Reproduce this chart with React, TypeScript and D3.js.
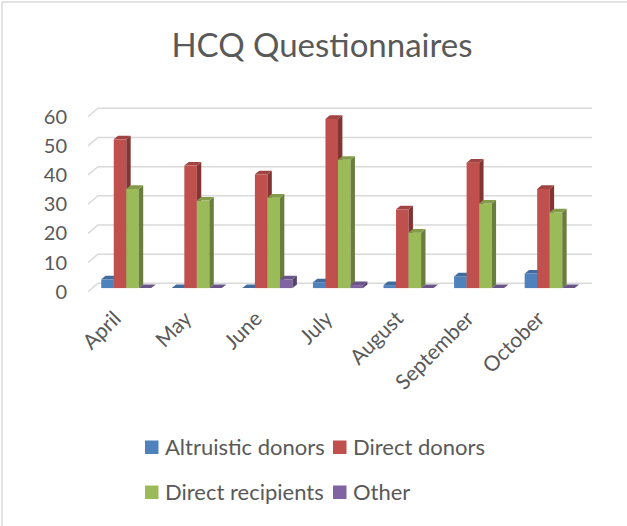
import { useEffect, useRef } from "react"
import * as d3 from "d3"

const months = ["April", "May", "June", "July", "August", "September", "October"]
const seriesNames = ["Altruistic donors", "Direct donors", "Direct recipients", "Other"]
const altruistic = [3, 0, 0, 2, 1, 4, 5]
const directDonors = [51, 42, 39, 58, 27, 43, 34]
const directRecipients = [34, 30, 31, 44, 19, 29, 26]
const other = [0, 0, 3, 1, 0, 0, 0]
const yTicks = [0, 10, 20, 30, 40, 50, 60]
const colors = ["#4F81BD", "#C0504D", "#9BBB59", "#8064A2"]

export default function App() {
    const ref = useRef<SVGSVGElement>(null)

    useEffect(() => {
        const svg = d3.select(ref.current)
        svg.selectAll("*").remove()

        const font = "Lato, 'Open Sans', sans-serif"
        const textColor = "#595959"
        const values = [altruistic, directDonors, directRecipients, other]

        // border (only top/left visible in the crop)
        svg.append("rect")
            .attr("x", 2).attr("y", 2)
            .attr("width", 700).attr("height", 600)
            .attr("fill", "white")
            .attr("stroke", "#d9d9d9")
            .attr("stroke-width", 1.5)

        svg.append("text")
            .attr("x", 322).attr("y", 57)
            .attr("text-anchor", "middle")
            .style("font-family", font)
            .style("font-size", "33px")
            .attr("fill", textColor)
            .text("HCQ Questionnaires")

        // front plane scales, back wall is offset by (depthX, depthY)
        const depthX = 10, depthY = -8.4
        const y = d3.scaleLinear().domain([0, 60]).range([291.7, 116.7])
        const x0 = d3.scaleBand().domain(months).range([88, 582]).paddingInner(0.29).paddingOuter(0.145)
        const x1 = d3.scaleBand().domain(seriesNames).range([0, x0.bandwidth()])

        const grid = svg.append("g")
        yTicks.forEach((t) => {
            grid.append("path")
                .attr("d", `M${88},${y(t)} L${88 + depthX},${y(t) + depthY} L${582 + depthX},${y(t) + depthY}`)
                .attr("fill", "none")
                .attr("stroke", "#d9d9d9")
                .attr("stroke-width", 1.5)
        })

        svg.append("g")
            .selectAll("text")
            .data(yTicks)
            .join("text")
            .attr("x", 67)
            .attr("y", (d) => y(d))
            .attr("dy", "0.35em")
            .attr("text-anchor", "end")
            .style("font-family", font)
            .style("font-size", "20px")
            .attr("fill", textColor)
            .text((d) => d)

        // bars sit partway into the depth
        const offX = 3, offY = -3.6
        const bx = 4.4, by = -3.6
        const bars = svg.append("g")
        months.forEach((m, i) => {
            seriesNames.forEach((s, j) => {
                const v = values[j][i]
                const c = d3.color(colors[j])!
                const left = x0(m)! + x1(s)! + offX
                const w = x1.bandwidth()
                const base = y(0) + offY
                const top = y(v) + offY
                const g = bars.append("g")
                g.append("rect")
                    .attr("x", left).attr("y", top)
                    .attr("width", w).attr("height", base - top)
                    .attr("fill", colors[j])
                g.append("path")
                    .attr("d", `M${left + w},${top} L${left + w + bx},${top + by} L${left + w + bx},${base + by} L${left + w},${base} Z`)
                    .attr("fill", c.darker(1.1).formatHex())
                g.append("path")
                    .attr("d", `M${left},${top} L${left + bx},${top + by} L${left + w + bx},${top + by} L${left + w},${top} Z`)
                    .attr("fill", c.darker(0.5).formatHex())
            })
        })

        svg.append("g")
            .selectAll("text")
            .data(months)
            .join("text")
            .attr("transform", (d) => `translate(${x0(d)! + x0.bandwidth() / 2 - 1},${320}) rotate(-45)`)
            .attr("text-anchor", "end")
            .style("font-family", font)
            .style("font-size", "21px")
            .attr("fill", textColor)
            .text((d) => d)

        const legendPos = [[145, 447], [333, 447], [145, 492], [333, 492]]
        const legend = svg.append("g")
        seriesNames.forEach((s, j) => {
            const [lx, ly] = legendPos[j]
            legend.append("rect")
                .attr("x", lx).attr("y", ly - 6.5)
                .attr("width", 13.5).attr("height", 13.5)
                .attr("fill", colors[j])
            legend.append("text")
                .attr("x", lx + 20).attr("y", ly)
                .attr("dy", "0.35em")
                .style("font-family", font)
                .style("font-size", "22px")
                .attr("fill", textColor)
                .text(s)
        })
    }, [])

    return (
        <div style={{ position: "absolute", left: 0, top: 0 }}>
            <svg ref={ref} width={627} height={526} style={{ display: "block" }}></svg>
        </div>
    )
}
